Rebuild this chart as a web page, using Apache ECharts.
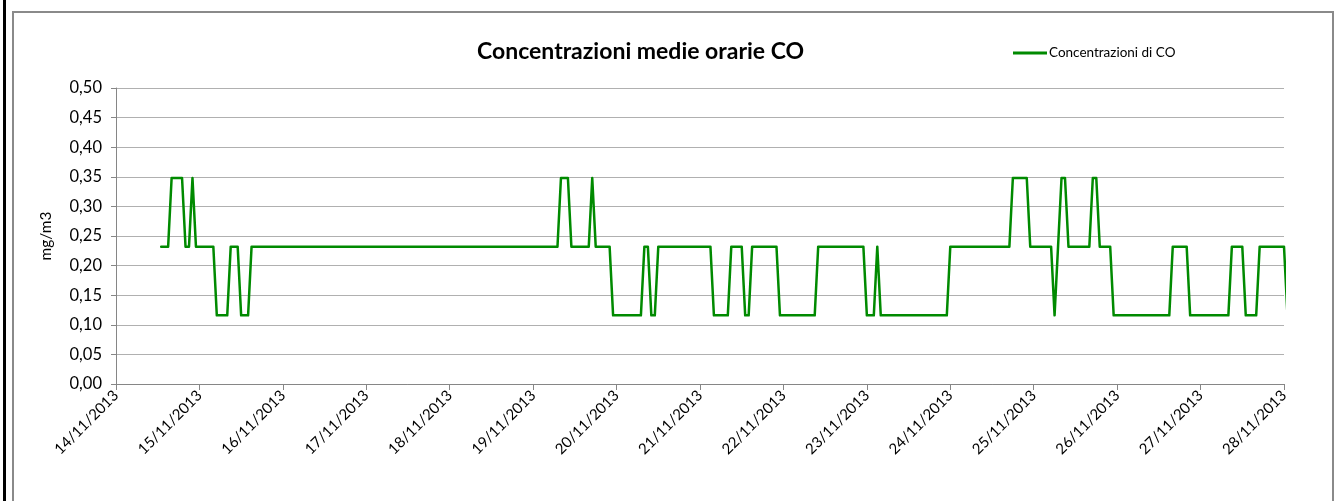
<!DOCTYPE html>
<html>
<head>
<meta charset="utf-8">
<title>Concentrazioni medie orarie CO</title>
<script src="https://cdn.jsdelivr.net/npm/echarts@6/dist/echarts.min.js"></script>
<style>
  html, body { margin: 0; padding: 0; background: #fff; }
  #main { position: absolute; left: 0; top: 0; width: 1343px; height: 501px; }
  /* cornice esterna nera e bordo grigio dell'area grafico */
  #bordoNero { position: absolute; left: 3px; top: 0; width: 3px; height: 501px; background: #000; }
  #bordoGrigio { position: absolute; left: 12px; top: 11px; width: 1318px; height: 500px;
                 border: 2px solid #8a8a8a; border-bottom: none; pointer-events: none; }
</style>
</head>
<body>
<div id="main"></div>
<div id="bordoNero"></div>
<div id="bordoGrigio"></div>
<script>
// etichette dei giorni (asse x, un tick ogni 24 ore a partire dal 14/11/2013 00:00)
var giorni = ['14/11/2013', '15/11/2013', '16/11/2013', '17/11/2013', '18/11/2013',
              '19/11/2013', '20/11/2013', '21/11/2013', '22/11/2013', '23/11/2013',
              '24/11/2013', '25/11/2013', '26/11/2013', '27/11/2013', '28/11/2013'];

// ore trascorse dal 14/11/2013 00:00 (vertici della spezzata oraria)
var ore = [13, 15, 16, 19, 20, 21, 22, 23, 28, 29, 32, 33, 35, 36, 38, 39,
           127, 128, 130, 131, 136, 137, 138, 142, 143, 151, 152, 153, 154, 155, 156,
           171, 172, 176, 177, 180, 181, 182, 183, 190, 191, 201, 202, 215, 216, 218, 219, 220,
           239, 240, 257, 258, 262, 263, 269, 270, 271, 272, 273, 274, 280, 281, 282, 283, 286,
           287, 303, 304, 308, 309, 320, 321, 324, 325, 328, 329, 336, 337];

// concentrazioni di CO (mg/m3) corrispondenti
var co = [0.232, 0.232, 0.348, 0.348, 0.232, 0.232, 0.348, 0.232, 0.232, 0.116, 0.116, 0.232, 0.232, 0.116, 0.116, 0.232,
          0.232, 0.348, 0.348, 0.232, 0.232, 0.348, 0.232, 0.232, 0.116, 0.116, 0.232, 0.232, 0.116, 0.116, 0.232,
          0.232, 0.116, 0.116, 0.232, 0.232, 0.116, 0.116, 0.232, 0.232, 0.116, 0.116, 0.232, 0.232, 0.116, 0.116, 0.232, 0.116,
          0.116, 0.232, 0.232, 0.348, 0.348, 0.232, 0.232, 0.116, 0.232, 0.348, 0.348, 0.232, 0.232, 0.348, 0.348, 0.232, 0.232,
          0.116, 0.116, 0.232, 0.232, 0.116, 0.116, 0.232, 0.232, 0.116, 0.116, 0.232, 0.232, 0.116];

var fontBase = 'Lato, "Open Sans", sans-serif';

function draw() {
    var myChart = echarts.init(document.getElementById('main'));

    var d = [];
    for (var i = 0; i < ore.length; i++) {
        d.push([ore[i], co[i]]);
    }

    var option = {
        backgroundColor: '#ffffff',
        animation: false,
        title: {
            text: 'Concentrazioni medie orarie CO',
            left: 472,
            top: 35,
            textStyle: { fontFamily: fontBase, fontWeight: 'bold', fontSize: 23, color: '#000' }
        },
        legend: {
            data: ['Concentrazioni di CO'],
            left: 1008,
            top: 41,
            icon: 'rect',
            itemWidth: 34,
            itemHeight: 3,
            itemGap: 5,
            textStyle: { fontFamily: fontBase, fontSize: 13.5, color: '#000', padding: [0, 0, 0, -3] }
        },
        grid: {
            left: 116,
            right: 59,
            top: 88,
            bottom: 117,
            outerBoundsMode: 'none'
        },
        xAxis: {
            type: 'value',
            min: 0,
            max: 336,
            interval: 24,
            axisLine: { lineStyle: { color: '#868686', width: 1 } },
            axisTick: { show: true, length: 6, lineStyle: { color: '#868686' } },
            splitLine: { show: false },
            axisLabel: {
                rotate: 45,
                margin: 9,
                fontFamily: fontBase,
                fontSize: 15,
                color: '#000',
                formatter: function (v) { return giorni[Math.round(v / 24)]; }
            }
        },
        yAxis: {
            type: 'value',
            min: 0,
            max: 0.5,
            interval: 0.05,
            name: 'mg/m3',
            nameLocation: 'middle',
            nameRotate: 90,
            nameGap: 62,
            nameTextStyle: { fontFamily: fontBase, fontSize: 15.5, color: '#000' },
            axisLine: { show: true, lineStyle: { color: '#868686', width: 1 } },
            axisTick: { show: true, length: 5, lineStyle: { color: '#868686' } },
            splitLine: { lineStyle: { color: '#b0b0b0', width: 1 } },
            axisLabel: {
                margin: 14,
                fontFamily: fontBase,
                fontSize: 16.5,
                color: '#000',
                formatter: function (v) { return v.toFixed(2).replace('.', ','); }
            }
        },
        series: [
            {
                name: 'Concentrazioni di CO',
                type: 'line',
                data: d,
                showSymbol: false,
                clip: true,
                color: '#008a00',
                lineStyle: { color: '#008a00', width: 2.5, join: 'round', cap: 'round' }
            }
        ]
    };

    myChart.setOption(option);
}

draw();
</script>
</body>
</html>
